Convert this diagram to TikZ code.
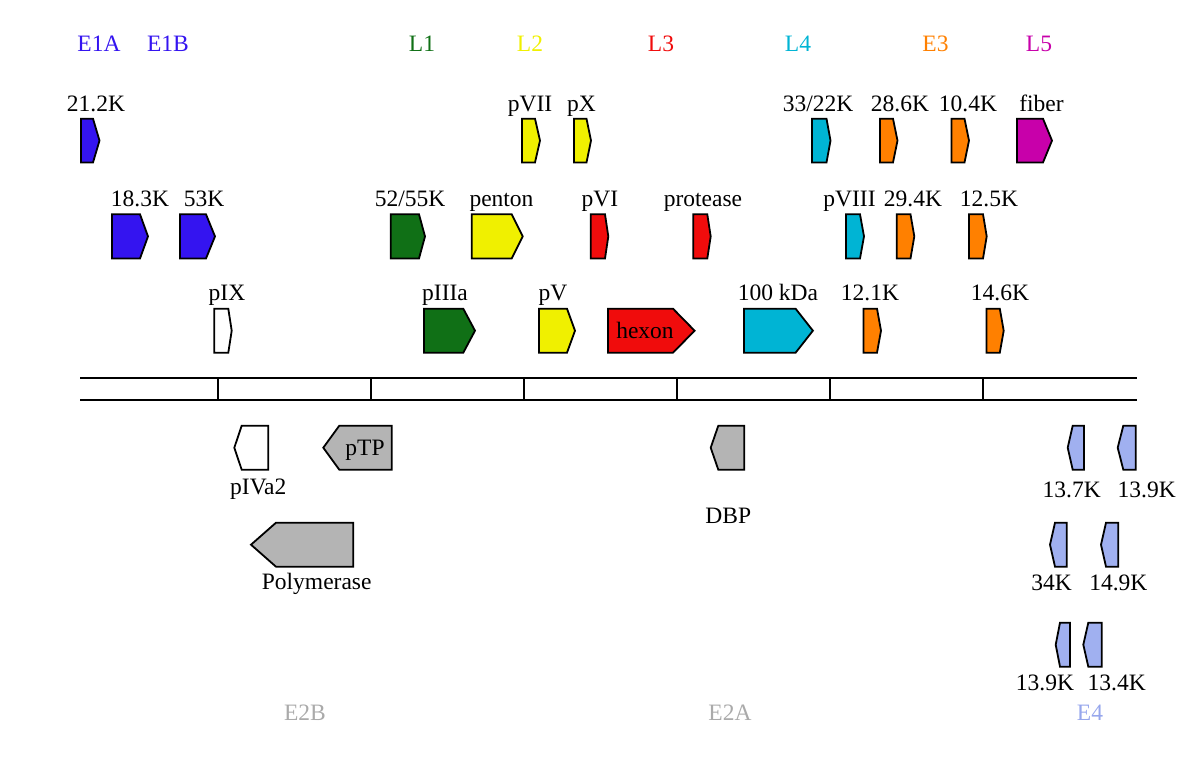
\documentclass[tikz,border=0pt]{standalone}
\usepackage{fontspec}
\setmainfont{Liberation Serif}
\definecolor{cEone}{RGB}{52,20,240}
\definecolor{cLone}{RGB}{16,112,22}
\definecolor{cLtwo}{RGB}{240,240,0}
\definecolor{cLthree}{RGB}{240,12,12}
\definecolor{cLfour}{RGB}{0,180,212}
\definecolor{cEthree}{RGB}{255,128,0}
\definecolor{cLfive}{RGB}{200,0,170}
\definecolor{cEtwo}{RGB}{180,180,180}
\definecolor{cEfour}{RGB}{160,176,240}
\definecolor{tEtwo}{RGB}{170,170,170}
\definecolor{tEfour}{RGB}{150,166,236}
\tikzset{
  gene/.style={draw=black, line width=1.8pt, line join=miter},
  lab/.style={font=\fontsize{23.5}{26}\selectfont, anchor=base, inner sep=0pt},
  axisline/.style={line width=2pt},
}
% forward gene: name, x-left, x-shoulder, x-tip, y-top, y-bottom, colour
\newcommand{\genefwd}[7]{%
  \path[gene, fill=#7] (#2,#5) -- (#3,#5) -- (#4,{(#5+#6)/2}) -- (#3,#6) -- (#2,#6) -- cycle;
  \coordinate (#1) at ({(#2+#4)/2},{(#5+#6)/2});}
% reverse gene: name, x-tip, x-shoulder, x-right, y-top, y-bottom, colour
\newcommand{\generev}[7]{%
  \path[gene, fill=#7] (#4,#5) -- (#3,#5) -- (#2,{(#5+#6)/2}) -- (#3,#6) -- (#4,#6) -- cycle;
  \coordinate (#1) at ({(#2+#4)/2},{(#5+#6)/2});}
\begin{document}
\begin{tikzpicture}[x=1pt,y=-1pt]
\useasboundingbox (0,0) rectangle (1200,781);

% ---- genome axis ----
\coordinate (a1) at (80,378);   \coordinate (a2) at (1137,378);
\coordinate (b1) at (80,399.5); \coordinate (b2) at (1137,399.5);
\draw[axisline] (a1) -- (a2);
\draw[axisline] (b1) -- (b2);
\foreach \t in {218,371,524,677,830,983}
  \draw[axisline] (\t,378) -- (\t,399.5);

% ---- region labels ----
\node[lab, text=cEone]   (tE1A) at (99,52)   {E1A};
\node[lab, text=cEone]   (tE1B) at (168,52)  {E1B};
\node[lab, text=cLone]   (tL1)  at (422,52)  {L1};
\node[lab, text=cLtwo]   (tL2)  at (530,52)  {L2};
\node[lab, text=cLthree] (tL3)  at (661,52)  {L3};
\node[lab, text=cLfour]  (tL4)  at (798,52)  {L4};
\node[lab, text=cEthree] (tE3)  at (935.5,52){E3};
\node[lab, text=cLfive]  (tL5)  at (1039,52) {L5};
\node[lab, text=tEtwo]   (tE2B) at (305,720) {E2B};
\node[lab, text=tEtwo]   (tE2A) at (730,720) {E2A};
\node[lab, text=tEfour]  (tE4)  at (1090,720){E4};

% ---- row 1 ----
\genefwd{g212}{81}{93}{99.5}{118.7}{162.5}{cEone}
\genefwd{gpVII}{522}{535}{540}{118.7}{162.5}{cLtwo}
\genefwd{gpX}{574}{586.5}{591}{118.7}{162.5}{cLtwo}
\genefwd{g3322}{812}{826.5}{830.5}{118.7}{162.5}{cLfour}
\genefwd{g286}{880}{893}{897.5}{118.7}{162.5}{cEthree}
\genefwd{g104}{951.5}{964.5}{969}{118.7}{162.5}{cEthree}
\genefwd{gfiber}{1017}{1043}{1052}{118.7}{162.5}{cLfive}
\node[lab] (l212)   at (96,112)    {21.2K};
\node[lab] (lpVII)  at (530,112)   {pVII};
\node[lab] (lpX)    at (581.5,112) {pX};
\node[lab] (l3322)  at (818,112)   {33/22K};
\node[lab] (l286)   at (900,112)   {28.6K};
\node[lab] (l104)   at (968,112)   {10.4K};
\node[lab] (lfiber) at (1041.5,112){fiber};

% ---- row 2 ----
\genefwd{g183}{112}{140}{148}{214.3}{258.5}{cEone}
\genefwd{g53}{180}{206}{215}{214.3}{258.5}{cEone}
\genefwd{g5255}{390.7}{419}{425}{214.3}{258.5}{cLone}
\genefwd{gpenton}{471.7}{511.7}{522.7}{214.3}{258.5}{cLtwo}
\genefwd{gpVI}{590.7}{605}{608.3}{214.3}{258.5}{cLthree}
\genefwd{gprot}{693.3}{707.3}{710.7}{214.3}{258.5}{cLthree}
\genefwd{gpVIII}{846}{860}{864}{214.3}{258.5}{cLfour}
\genefwd{g294}{896.7}{910.5}{914.3}{214.3}{258.5}{cEthree}
\genefwd{g125}{969}{983}{986.7}{214.3}{258.5}{cEthree}
\node[lab] (l183)    at (140,207)   {18.3K};
\node[lab] (l53)     at (204,207)   {53K};
\node[lab] (l5255)   at (410,207)   {52/55K};
\node[lab] (lpenton) at (501.5,207) {penton};
\node[lab] (lpVI)    at (600,207)   {pVI};
\node[lab] (lprot)   at (703,207)   {protease};
\node[lab] (lpVIII)  at (849.5,207) {pVIII};
\node[lab] (l294)    at (913,207)   {29.4K};
\node[lab] (l125)    at (989,207)   {12.5K};

% ---- row 3 ----
\genefwd{gpIX}{214.3}{228.3}{231.7}{308.7}{352.7}{white}
\genefwd{gpIIIa}{424}{463.3}{475}{308.7}{352.7}{cLone}
\genefwd{gpV}{539}{567}{575}{308.7}{352.7}{cLtwo}
\genefwd{ghexon}{608}{673}{694.6}{308.7}{352.7}{cLthree}
\genefwd{g100k}{744}{795.6}{812.9}{308.7}{352.7}{cLfour}
\genefwd{g121}{863.4}{877}{881}{308.7}{352.7}{cEthree}
\genefwd{g146}{986.4}{999.8}{1003.7}{308.7}{352.7}{cEthree}
\node[lab] (lpIX)   at (227,300)  {pIX};
\node[lab] (lpIIIa) at (445,300)  {pIIIa};
\node[lab] (lpV)    at (553,300)  {pV};
\node[lab] (lhexon) at (645,338)  {hexon};
\node[lab] (l100k)  at (778,300)  {100 kDa};
\node[lab] (l121)   at (870,300)  {12.1K};
\node[lab] (l146)   at (1000,300) {14.6K};

% ---- reverse strand ----
\generev{gpIVa2}{234.3}{241.7}{268.3}{425.7}{469.7}{white}
\generev{gpTP}{323.3}{339.3}{391.7}{425.7}{469.7}{cEtwo}
\generev{gDBP}{710.7}{718.3}{744.3}{425.7}{469.7}{cEtwo}
\generev{g137}{1067.7}{1072.7}{1084}{425.7}{469.7}{cEfour}
\generev{g139a}{1117.7}{1123.3}{1135.7}{425.7}{469.7}{cEfour}
\generev{gpol}{251}{276}{353.3}{522.7}{566.7}{cEtwo}
\generev{g34}{1050}{1055}{1066.7}{522.7}{566.7}{cEfour}
\generev{g149}{1101}{1106}{1118.3}{522.7}{566.7}{cEfour}
\generev{g139b}{1055.7}{1060}{1070}{622.7}{666.7}{cEfour}
\generev{g134}{1083.3}{1088.3}{1101.7}{622.7}{666.7}{cEfour}
\node[lab] (lpTP)   at (365,455)    {pTP};
\node[lab] (lpIVa2) at (258.3,494)  {pIVa2};
\node[lab] (lDBP)   at (728.3,523)  {DBP};
\node[lab] (l137)   at (1071.7,497) {13.7K};
\node[lab] (l139a)  at (1146.7,497) {13.9K};
\node[lab] (lpol)   at (316.7,589)  {Polymerase};
\node[lab] (l34)    at (1051.7,590) {34K};
\node[lab] (l149)   at (1118.3,590) {14.9K};
\node[lab] (l139b)  at (1045,690)   {13.9K};
\node[lab] (l134)   at (1116.7,690) {13.4K};
\end{tikzpicture}
\end{document}
